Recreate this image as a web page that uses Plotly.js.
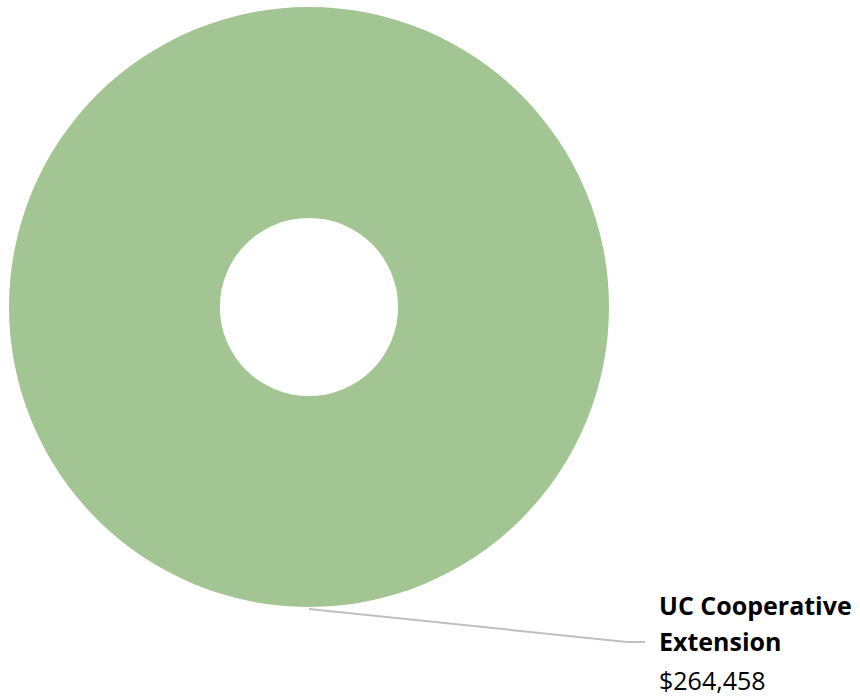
<!DOCTYPE html>
<html><head><meta charset="utf-8">
<script src="https://cdn.plot.ly/plotly-3.0.1.min.js"></script>
<style>body{margin:0;background:#fff}#c{width:860px;height:698px}</style>
</head><body><div id="c"></div>
<script>
const labels = ["UC Cooperative Extension"];
const labelLines = ["UC Cooperative", "Extension"];
const values = [264458];
const colors = ["#a3c593"];

const W = 860, H = 698;
const fmt = v => "$" + v.toLocaleString("en-US");

const data = [{
  type: "pie",
  labels: labels,
  values: values,
  hole: 0.297,
  sort: false,
  direction: "clockwise",
  textinfo: "none",
  hoverinfo: "label+value",
  marker: {colors: colors, line: {width: 0}},
  domain: {x: [9/W, 609/W], y: [(H-607)/H, (H-7)/H]},
  showlegend: false
}];

const lineTexts = ["<b>" + labelLines[0] + "</b>", "<b>" + labelLines[1] + "</b>", fmt(values[0])];
const lineY = [605, 641, 680];

const layout = {
  width: W, height: H,
  margin: {l: 0, r: 0, t: 0, b: 0},
  paper_bgcolor: "#ffffff",
  font: {family: "Open Sans, Liberation Sans, sans-serif", color: "#000"},
  shapes: [{
    type: "path", xref: "paper", yref: "paper",
    path: `M ${309/W} ${(H-609)/H} L ${627/W} ${(H-642)/H} L ${645/W} ${(H-642)/H}`,
    line: {color: "#bfbfbf", width: 2}
  }],
  annotations: lineTexts.map((t, i) => ({
    xref: "paper", yref: "paper",
    x: 657/W, y: (H - lineY[i])/H, xanchor: "left", yanchor: "middle",
    align: "left", showarrow: false,
    text: t,
    font: {size: 25, family: "Open Sans, sans-serif", color: "#000"}
  }))
};

Plotly.newPlot("c", data, layout, {displayModeBar: false, staticPlot: true});
</script></body></html>
